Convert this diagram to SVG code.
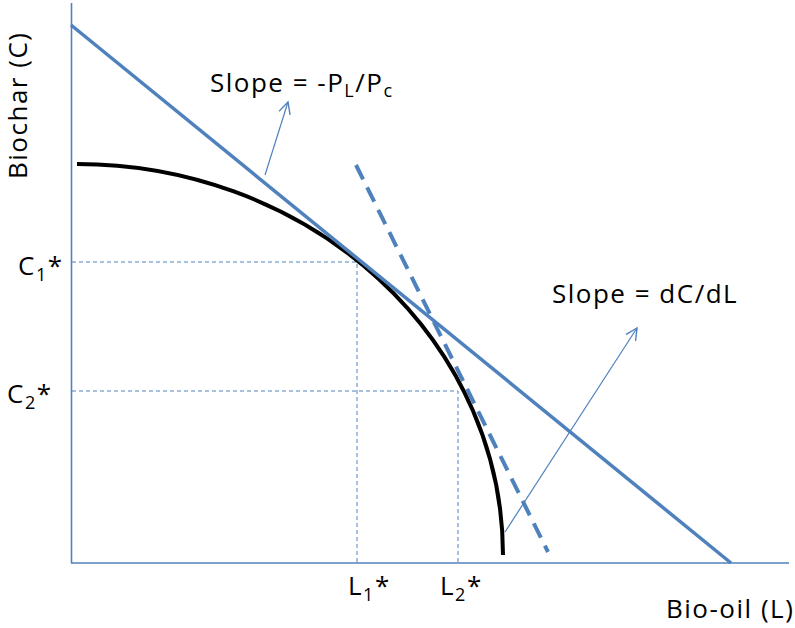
<svg xmlns="http://www.w3.org/2000/svg" width="795" height="628" viewBox="0 0 795 628">
<style>
.t{font-family:"Open Sans","Liberation Sans",sans-serif;fill:#000;font-size:26px;letter-spacing:1.5px}
.sub{font-size:18px}
.axis{stroke:#4F81BD;stroke-width:1.6;fill:none}
.guide{stroke:#4F81BD;stroke-width:1;stroke-dasharray:4 3;fill:none}
.budget{stroke:#4F81BD;stroke-width:3.5;fill:none}
.deriv{stroke:#4F81BD;stroke-width:4;stroke-dasharray:16 9;fill:none}
.ppf{stroke:#000;stroke-width:4;fill:none}
.lbl{stroke:#4F81BD;stroke-width:1.2;fill:none}
</style>
<defs>
<marker id="open" markerWidth="14" markerHeight="14" refX="10" refY="5" orient="auto" markerUnits="userSpaceOnUse" viewBox="0 0 12 10">
<path d="M0,0 L10,5 L0,10" fill="none" stroke="#4F81BD" stroke-width="1.2"/>
</marker>
</defs>
<g id="axes">
<line class="axis" x1="71.5" y1="3" x2="71.5" y2="563"/>
<line class="axis" x1="71" y1="563" x2="789" y2="563"/>
</g>
<g id="guides">
<polyline class="guide" points="72,262 357,262 357,563"/>
<polyline class="guide" points="72,391 458,391 458,563"/>
</g>
<g id="ppf-curve">
<path class="ppf" d="M77,164 A426,391 0 0 1 503,555"/>
</g>
<g id="budget-line">
<line class="budget" x1="71" y1="25" x2="731" y2="563"/>
</g>
<g id="tangent-line">
<line class="deriv" x1="356" y1="165" x2="548" y2="552"/>
</g>
<g id="connectors">
<line class="lbl" x1="265" y1="175" x2="288" y2="102" marker-end="url(#open)"/>
<line class="lbl" x1="505" y1="532" x2="637" y2="328" marker-end="url(#open)"/>
</g>
<g id="labels">
<text class="t" x="210" y="92">Slope = -P<tspan class="sub" dy="5">L</tspan><tspan dy="-5">/P</tspan><tspan class="sub" dy="5">c</tspan></text>
<text class="t" x="552" y="303">Slope = dC/dL</text>
<text class="t" transform="translate(27,179) rotate(-90)">Biochar (C)</text>
<text class="t" x="666" y="618">Bio-oil (L)</text>
<text class="t" x="18" y="275">C<tspan class="sub" dy="6">1</tspan><tspan dy="-6">*</tspan></text>
<text class="t" x="7" y="403">C<tspan class="sub" dy="6">2</tspan><tspan dy="-6">*</tspan></text>
<text class="t" x="348" y="595">L<tspan class="sub" dy="6">1</tspan><tspan dy="-6">*</tspan></text>
<text class="t" x="440" y="595">L<tspan class="sub" dy="6">2</tspan><tspan dy="-6">*</tspan></text>
</g>
</svg>
